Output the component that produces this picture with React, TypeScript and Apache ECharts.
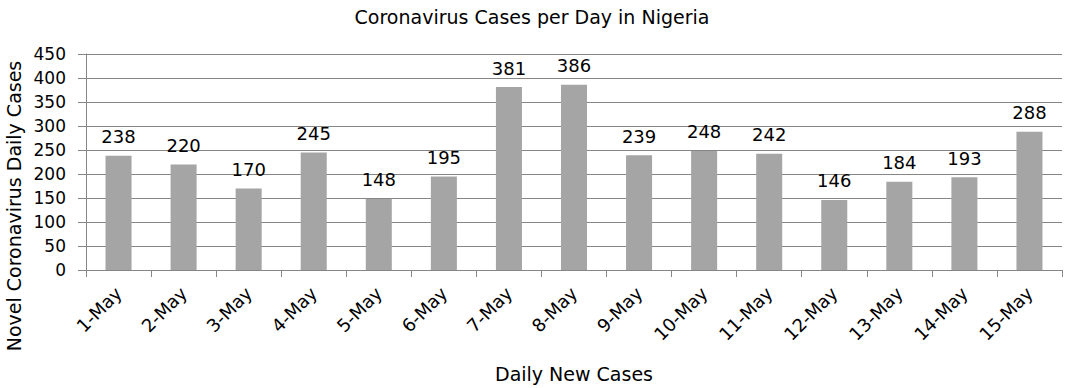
import React, { useEffect, useRef } from "react";
import * as echarts from "echarts";

const categories = ["1-May","2-May","3-May","4-May","5-May","6-May","7-May","8-May","9-May","10-May","11-May","12-May","13-May","14-May","15-May"];
const cases = [238, 220, 170, 245, 148, 195, 381, 386, 239, 248, 242, 146, 184, 193, 288];
const titleText = "Coronavirus Cases per Day in Nigeria";
const xTitle = "Daily New Cases";
const yTitle = "Novel Coronavirus Daily Cases";

const FONT = "DejaVu Sans";

export default function App() {
  const ref = useRef<HTMLDivElement>(null);
  useEffect(() => {
    if (!ref.current) return;
    const chart = echarts.init(ref.current, null, { renderer: "svg" });
    chart.setOption({
      animation: false,
      backgroundColor: "#ffffff",
      textStyle: { fontFamily: FONT },
      title: {
        text: titleText,
        left: 527,
        textAlign: "center",
        top: 2,
        textStyle: { fontFamily: FONT, fontSize: 19, fontWeight: "normal", color: "#000" },
      },
      grid: { left: 86, right: 5, top: 54, bottom: 115, containLabel: false },
      xAxis: {
        type: "category",
        data: categories,
        axisLine: { show: true, lineStyle: { color: "#868686", width: 1 } },
        axisTick: { show: true, alignWithLabel: false, length: 7, lineStyle: { color: "#868686" } },
        axisLabel: { rotate: 45, fontFamily: FONT, fontSize: 18, color: "#000", margin: 20 },
        name: xTitle,
        nameLocation: "middle",
        nameGap: 94,
        nameTextStyle: { fontFamily: FONT, fontSize: 19, color: "#000" },
      },
      yAxis: {
        type: "value",
        min: 0,
        max: 450,
        interval: 50,
        axisLine: { show: true, lineStyle: { color: "#868686", width: 1 } },
        axisTick: { show: true, length: 8, lineStyle: { color: "#868686" } },
        splitLine: { show: true, lineStyle: { color: "#868686", width: 1 } },
        axisLabel: { fontFamily: FONT, fontSize: 17, color: "#000", margin: 20 },
      },
      graphic: [
        {
          type: "text",
          x: 4,
          y: 206,
          rotation: Math.PI / 2,
          style: {
            text: yTitle,
            fontFamily: FONT,
            fontSize: 19,
            fill: "#000",
            align: "center",
            verticalAlign: "top",
          },
        },
      ],
      series: [
        {
          type: "bar",
          data: cases,
          barCategoryGap: "60%",
          itemStyle: { color: "#a5a5a5" },
          label: {
            show: true,
            position: "top",
            distance: 10,
            fontFamily: FONT,
            fontSize: 18,
            color: "#000",
          },
        },
      ],
    });
    return () => chart.dispose();
  }, []);
  return <div ref={ref} style={{ width: 1067, height: 388, position: "absolute", left: 0, top: 0 }} />;
}
